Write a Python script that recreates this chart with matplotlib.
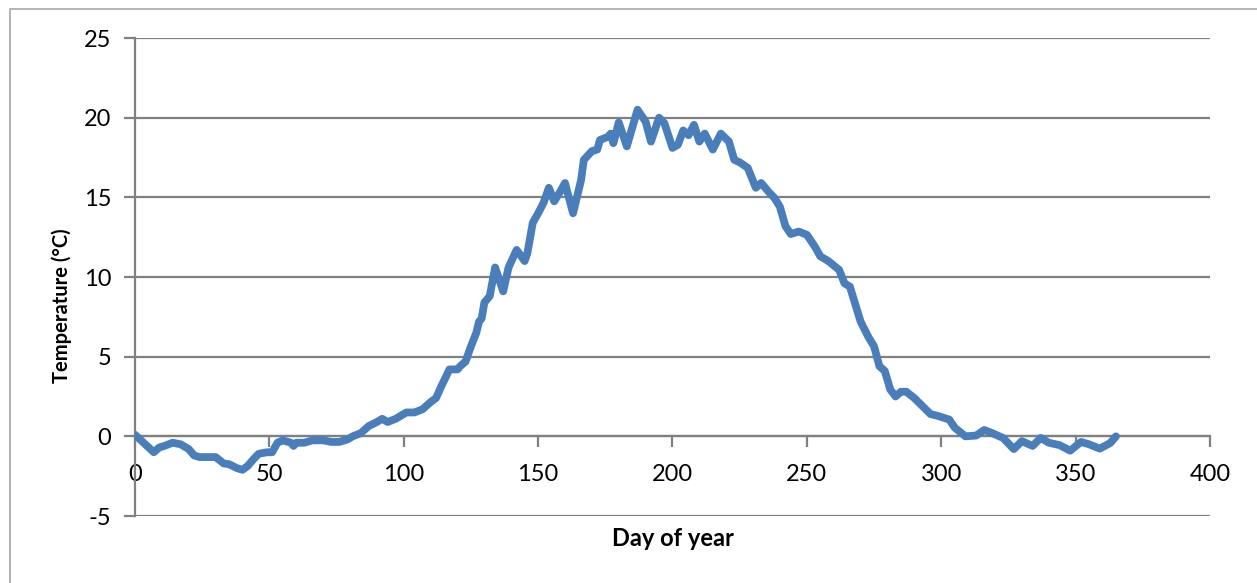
import matplotlib.pyplot as plt
from matplotlib.patches import Rectangle

plt.rcParams['font.family'] = ['Lato', 'DejaVu Sans']

# daily mean temperature over the year
day = [0, 7, 9, 11, 14, 17, 20, 22, 24, 30, 33, 35, 38, 40, 42, 44, 46, 49, 51, 53,
       55, 58, 59, 60, 63, 66, 70, 73, 76, 79, 81, 84, 87, 90, 92, 94, 97, 101, 104, 107,
       110, 112, 114, 117, 120, 121, 123, 125, 127, 128, 129, 130, 132, 134, 137, 139, 142, 145, 146, 148,
       150, 152, 154, 156, 158, 160, 162, 163, 166, 167, 170, 172, 173, 176, 177, 178, 180, 183, 187, 190,
       192, 195, 197, 200, 202, 204, 206, 208, 210, 212, 215, 218, 221, 223, 225, 228, 231, 233, 236, 238,
       240, 242, 244, 247, 250, 253, 255, 258, 262, 264, 266, 268, 270, 273, 275, 277, 279, 281, 283, 285,
       287, 290, 293, 296, 299, 303, 305, 309, 313, 316, 319, 323, 327, 330, 334, 337, 340, 344, 348, 352,
       355, 359, 362, 363, 365]
temp = [0.1, -1.0, -0.7, -0.6, -0.4, -0.5, -0.8, -1.2, -1.3, -1.3, -1.7, -1.75, -2.0, -2.1, -1.85, -1.45, -1.1, -1.0, -1.0, -0.4,
        -0.25, -0.4, -0.6, -0.4, -0.4, -0.25, -0.25, -0.35, -0.35, -0.2, 0.0, 0.2, 0.65, 0.9, 1.1, 0.9, 1.1, 1.5, 1.5, 1.7,
        2.15, 2.4, 3.15, 4.2, 4.2, 4.4, 4.7, 5.65, 6.5, 7.2, 7.4, 8.4, 8.8, 10.6, 9.1, 10.6, 11.7, 11.0, 11.5, 13.4,
        14.0, 14.65, 15.6, 14.75, 15.3, 15.9, 14.65, 14.0, 16.1, 17.35, 17.9, 18.0, 18.6, 18.8, 19.0, 18.4, 19.7, 18.2, 20.5, 19.75,
        18.5, 20.0, 19.65, 18.1, 18.3, 19.2, 18.9, 19.55, 18.5, 19.0, 18.0, 19.0, 18.5, 17.35, 17.2, 16.85, 15.6, 15.9, 15.3, 14.95,
        14.4, 13.2, 12.7, 12.85, 12.65, 11.9, 11.3, 11.0, 10.45, 9.6, 9.4, 8.3, 7.2, 6.2, 5.65, 4.4, 4.1, 2.95, 2.5, 2.8,
        2.8, 2.4, 1.9, 1.4, 1.27, 1.05, 0.55, 0.0, 0.05, 0.4, 0.2, -0.1, -0.8, -0.3, -0.6, -0.1, -0.4, -0.55, -0.9, -0.35,
        -0.5, -0.77, -0.5, -0.4, 0.0]

xticks = [0, 50, 100, 150, 200, 250, 300, 350, 400]
yticks = [-5, 0, 5, 10, 15, 20, 25]

grey = '#808080'

fig = plt.figure(figsize=(12.57, 5.83), dpi=100)
ax = fig.add_axes([0.1074, 0.1149, 0.8552, 0.8199])

# outer chart frame
fig.patches.append(Rectangle((10 / 1257, -0.05), 1.2, 1 - 9 / 583 + 0.05,
                             transform=fig.transFigure, fill=False,
                             edgecolor='#a6a6a6', linewidth=1.2))

ax.plot(day, temp, color='#4a7ebb', linewidth=5.6, solid_joinstyle='round',
        solid_capstyle='round', zorder=3)

ax.set_xlim(0, 400)
ax.set_ylim(-5, 25)
ax.set_xticks(xticks)
ax.set_yticks(yticks)
ax.set_xticklabels([str(v) for v in xticks])
ax.set_yticklabels([str(v) for v in yticks])

ax.grid(axis='y', color=grey, linewidth=1.6, zorder=1)
ax.set_axisbelow(True)

for s in ['top', 'right']:
    ax.spines[s].set_visible(False)
ax.spines['bottom'].set_position(('data', 0))
ax.spines['bottom'].set_color(grey)
ax.spines['bottom'].set_linewidth(1.6)
ax.spines['left'].set_color(grey)
ax.spines['left'].set_linewidth(1.6)

ax.tick_params(axis='x', direction='out', length=8, width=1.6, color=grey,
               pad=12, labelsize=17)
ax.tick_params(axis='y', direction='out', length=8, width=1.6, color=grey,
               pad=9, labelsize=17)

fig.text(62 / 1257, 1 - 306 / 583, 'Temperature (°C)', rotation=90, fontsize=14.5,
         fontweight='bold', ha='center', va='center')
fig.text(673 / 1257, 1 - 538 / 583, 'Day of year', fontsize=17,
         fontweight='bold', ha='center', va='center')

fig.savefig('out.png', dpi=100)
